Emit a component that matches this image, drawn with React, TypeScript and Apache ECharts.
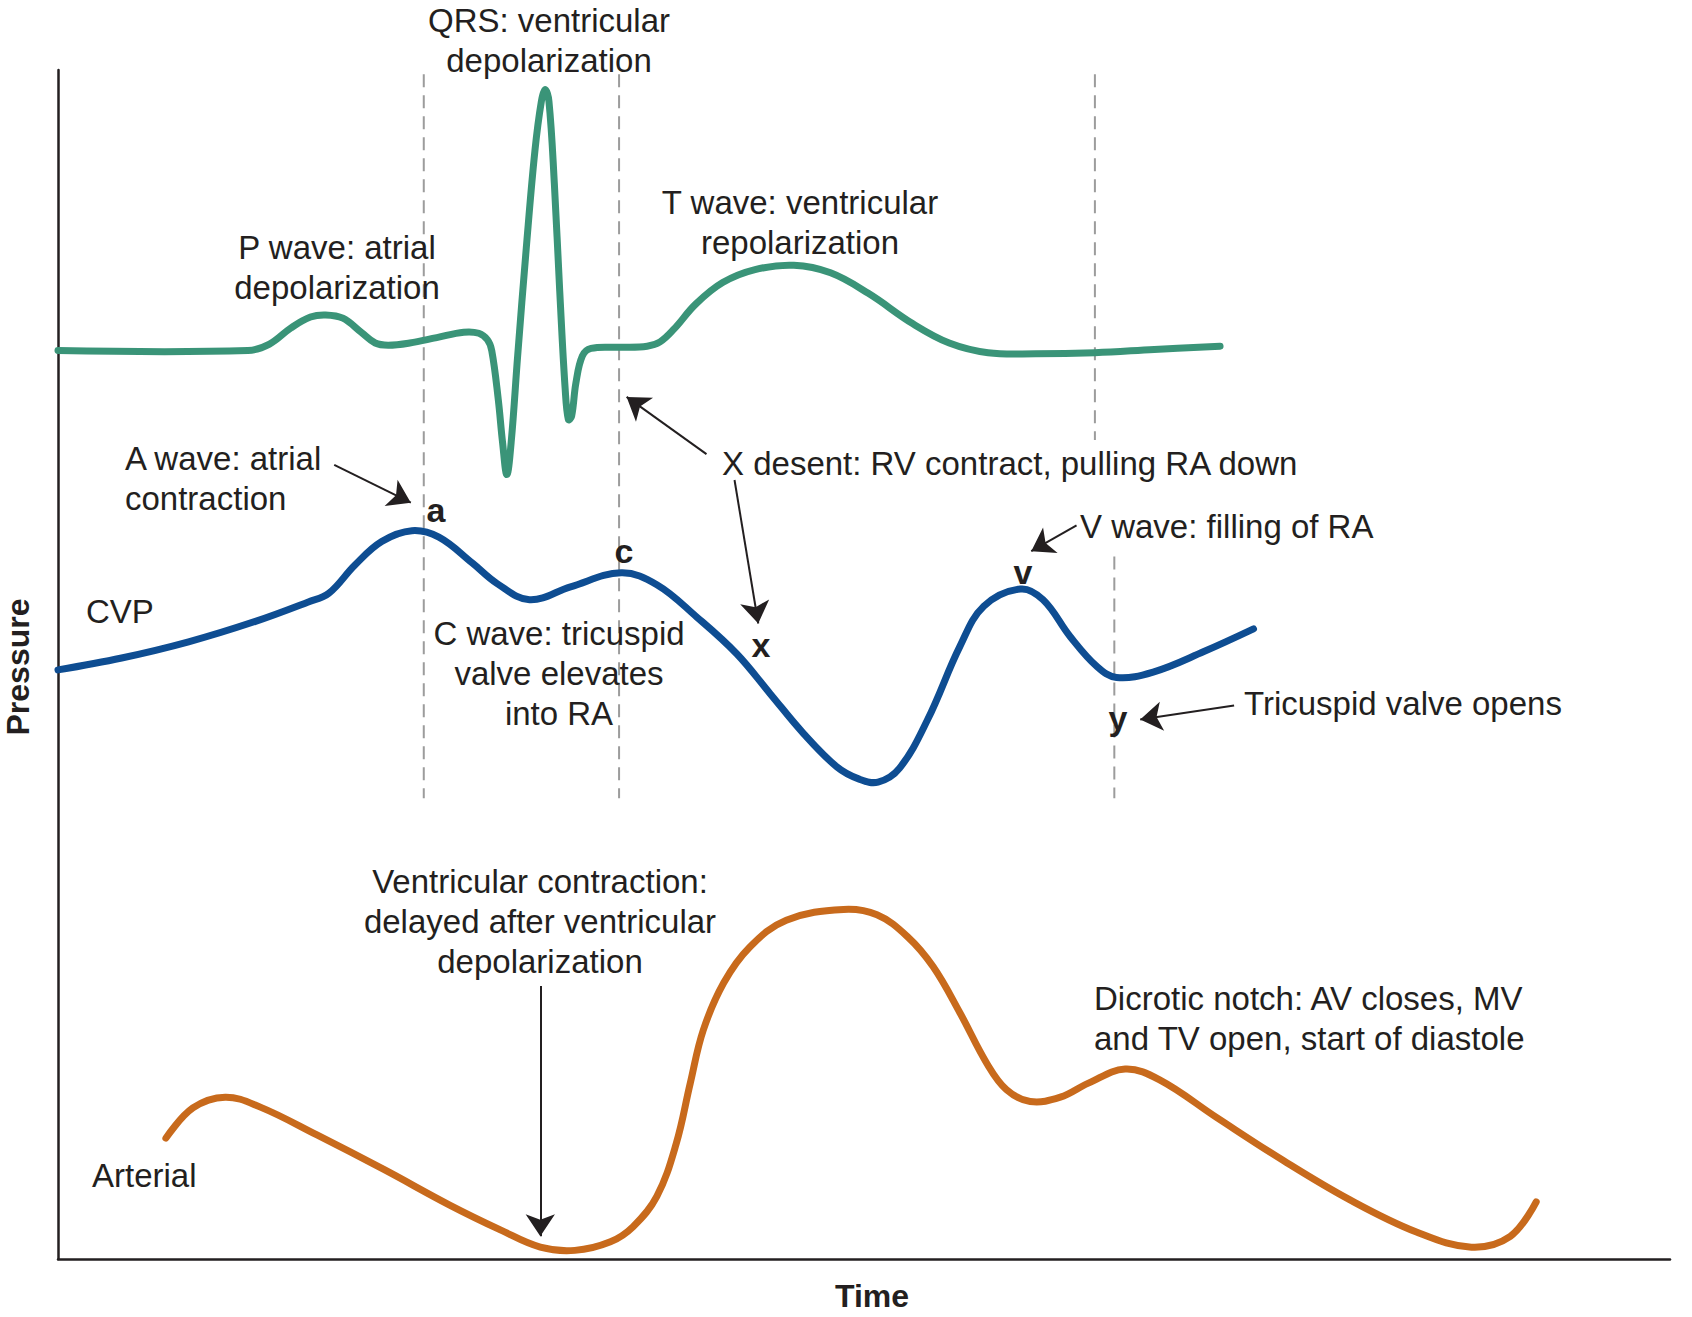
import React, { useEffect, useRef } from "react";
import * as echarts from "echarts";

// Time (arbitrary units) vs pressure (arbitrary units)
const ecgPoints: [number, number][] = [
  [0, 842], [176, 842], [196, 848], [216, 863], [234, 873], [248, 875], [264, 872], [281, 859],
  [294, 849], [306, 847], [326, 849], [351, 854], [376, 859], [390, 858], [398, 852], [402, 842],
  [408, 797], [412, 757], [416, 727], [420, 757], [426, 837], [434, 937], [442, 1027], [448, 1073],
  [451.5, 1084], [455, 1073], [460, 997], [465, 897], [470, 807], [473, 778], [476, 781], [480, 812],
  [486, 837], [494, 844], [521, 845], [546, 846], [558, 850], [571, 862], [591, 885], [616, 905],
  [646, 917], [682, 921], [716, 914], [751, 895], [792, 867], [826, 849], [862, 840], [906, 839],
  [961, 840], [1016, 843], [1077, 846],
];

const cvpPoints: [number, number][] = [
  [0, 546], [59, 557], [121, 572], [183, 591], [232, 609], [251, 617], [275, 643], [300, 665],
  [328, 675], [353, 669], [384, 645], [407, 626], [437, 611], [475, 623], [522, 636], [555, 625],
  [592, 595], [629, 561], [660, 524], [691, 487], [722, 456], [742, 445], [760, 442], [780, 455],
  [806, 500], [836, 568], [858, 605], [892, 621], [913, 611], [938, 577], [963, 549], [981, 539],
  [1015, 544], [1062, 563], [1108, 584],
];

const arterialPoints: [number, number][] = [
  [100, 112], [125, 140], [155, 150], [187, 141], [240, 115], [302, 83], [363, 50], [410, 27],
  [447, 11], [479, 8], [512, 16], [533, 30], [555, 58], [573, 107], [586, 163], [598, 212],
  [617, 256], [641, 289], [675, 314], [728, 324], [759, 319], [787, 299], [811, 271], [836, 228],
  [861, 181], [879, 157], [901, 146], [929, 150], [955, 163], [989, 176], [1021, 166], [1074, 131],
  [1136, 91], [1197, 55], [1259, 25], [1310, 11], [1346, 21], [1370, 53],
];

// Vertical dashed event markers: [time, top pressure, bottom pressure]
const markerLines: [number, number, number][] = [
  [339, 1098, 427],
  [520, 1098, 427],
  [961, 1098, 759],
  [979, 651, 427],
];

// Annotation arrows: [from, to] in data units
const arrowSegments: [[number, number], [number, number]][] = [
  [[256, 736], [327, 701]],
  [[601, 746], [527, 799]],
  [[627, 722], [649, 589]],
  [[944, 680], [902, 656]],
  [[1090, 513], [1003, 500]],
  [[447, 253], [447, 21]],
];

const X_MAX = 1494;
const Y_MAX = 1102;

const TEXT = "#231f20";
const FONT = '"Liberation Sans", Arial, Helvetica, sans-serif';

type Note = { text: string; x: number; y: number; align: "left" | "center"; bold?: boolean; size?: number; rotate?: number };

const notes: Note[] = [
  { text: "QRS: ventricular\ndepolarization", x: 549, y: 40, align: "center" },
  { text: "P wave: atrial\ndepolarization", x: 337, y: 267, align: "center" },
  { text: "T wave: ventricular\nrepolarization", x: 800, y: 222, align: "center" },
  { text: "A wave: atrial\ncontraction", x: 125, y: 478, align: "left" },
  { text: "CVP", x: 86, y: 611, align: "left" },
  { text: "C wave: tricuspid\nvalve elevates\ninto RA", x: 559, y: 673, align: "center" },
  { text: "X desent: RV contract, pulling RA down", x: 722, y: 463, align: "left" },
  { text: "V wave: filling of RA", x: 1080, y: 526, align: "left" },
  { text: "Tricuspid valve opens", x: 1244, y: 703, align: "left" },
  { text: "Ventricular contraction:\ndelayed after ventricular\ndepolarization", x: 540, y: 921, align: "center" },
  { text: "Dicrotic notch: AV closes, MV\nand TV open, start of diastole", x: 1094, y: 1018, align: "left" },
  { text: "Arterial", x: 92, y: 1175, align: "left" },
  { text: "a", x: 436, y: 510, align: "center", bold: true, size: 34 },
  { text: "c", x: 624, y: 551, align: "center", bold: true, size: 34 },
  { text: "x", x: 761, y: 645, align: "center", bold: true, size: 34 },
  { text: "v", x: 1023, y: 572, align: "center", bold: true, size: 34 },
  { text: "y", x: 1118, y: 718, align: "center", bold: true, size: 34 },
  { text: "Time", x: 872, y: 1296, align: "center", bold: true, size: 32 },
  { text: "Pressure", x: 18, y: 667, align: "center", bold: true, size: 32, rotate: Math.PI / 2 },
];

export default function App() {
  const ref = useRef<HTMLDivElement>(null);

  useEffect(() => {
    if (!ref.current) return;
    const chart = echarts.init(ref.current, null, { renderer: "svg" });

    const axisCommon = {
      type: "value" as const,
      axisLine: { show: true, onZero: false, lineStyle: { color: TEXT, width: 2.5 } },
      axisTick: { show: false },
      axisLabel: { show: false },
      splitLine: { show: false },
    };

    // Smooth curve drawn through the data points, positioned by the axes (api.coord)
    const curve = (name: string, data: [number, number][], color: string) => ({
      name,
      type: "custom",
      data,
      encode: { x: 0, y: 1 },
      clip: false,
      silent: true,
      z: 3,
      renderItem: (params: any, api: any) => {
        if (params.dataIndex !== 0) return null;
        const pts = data.map((d) => api.coord(d));
        return {
          type: "polyline",
          shape: { points: pts, smooth: 0.38 },
          style: { stroke: color, lineWidth: 7, fill: null, lineCap: "round", lineJoin: "round" },
        };
      },
    });

    const dashed = markerLines.map(([t, top, bottom], i) => ({
      name: "marker" + i,
      type: "line",
      data: [[t, top], [t, bottom]],
      symbol: "none",
      silent: true,
      lineStyle: { color: "#9c9c9c", width: 2, type: [13, 8] },
      z: 1,
    }));

    const graphics = notes.map((n) => ({
      type: "text",
      x: n.x,
      y: n.y,
      rotation: n.rotate || 0,
      style: {
        text: n.text,
        fill: TEXT,
        fontFamily: FONT,
        fontSize: n.size || 33,
        fontWeight: n.bold ? "bold" : "normal",
        lineHeight: 40,
        align: n.align,
        textAlign: n.align,
        verticalAlign: "middle",
        textVerticalAlign: "middle",
      },
      z: 10,
    }));

    chart.setOption({
      animation: false,
      backgroundColor: "#ffffff",
      grid: { left: 58, right: 22, top: 70, bottom: 58, containLabel: false },
      xAxis: { ...axisCommon, min: 0, max: X_MAX },
      yAxis: { ...axisCommon, min: 0, max: Y_MAX },
      series: [
        ...dashed,
        curve("ECG", ecgPoints, "#3a9478"),
        curve("CVP", cvpPoints, "#0e4d92"),
        curve("Arterial", arterialPoints, "#c86a1c"),
        {
          name: "arrows",
          type: "lines",
          coordinateSystem: "cartesian2d",
          data: arrowSegments.map(([a, b]) => ({ coords: [a, b] })),
          symbol: ["none", "arrow"],
          symbolSize: [11, 22],
          lineStyle: { color: TEXT, width: 2, opacity: 1, curveness: 0 },
          silent: true,
          z: 5,
        },
      ],
      graphic: graphics,
    });

    return () => chart.dispose();
  }, []);

  return (
    <div
      ref={ref}
      style={{ position: "absolute", left: 0, top: 0, width: 1692, height: 1317, background: "#fff" }}
    />
  );
}
